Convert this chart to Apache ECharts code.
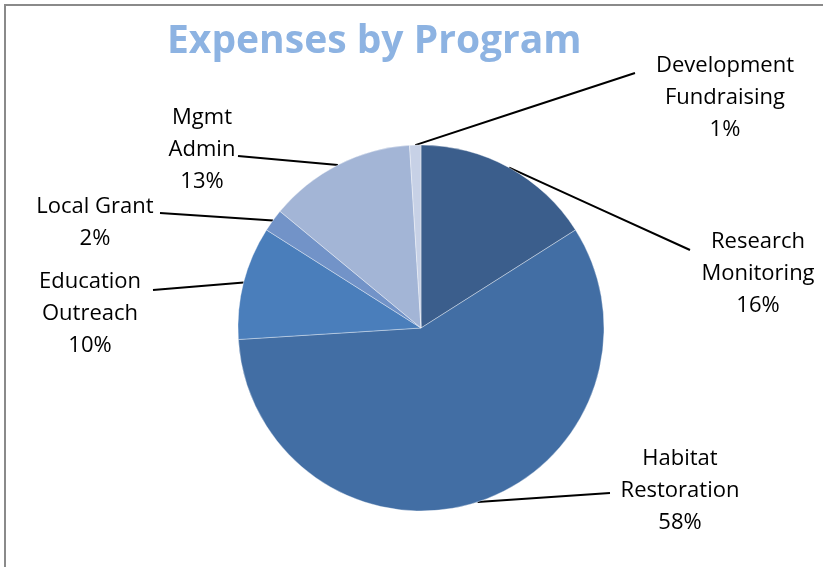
<!DOCTYPE html>
<html>
<head>
<meta charset="utf-8">
<script src="https://cdn.jsdelivr.net/npm/echarts@6/dist/echarts.min.js"></script>
<style>
  html, body { margin: 0; padding: 0; background: #fff; }
  #chart { width: 823px; height: 567px; }
  #frame {
    position: absolute; left: 4px; top: 4px; right: 0; bottom: 0;
    border-top: 2px solid #8a8a8a; border-left: 2px solid #8a8a8a;
    pointer-events: none;
  }
</style>
</head>
<body>
<div id="chart"></div>
<div id="frame"></div>
<script>
// data, clockwise from 12 o'clock
const programs = ['Research\nMonitoring', 'Habitat\nRestoration', 'Education\nOutreach', 'Local Grant', 'Mgmt\nAdmin', 'Development\nFundraising']
const shares = [16, 58, 10, 2, 13, 1]
const sliceColors = ['#3b5e8c', '#426ea4', '#4a7ebb', '#7293c8', '#a3b5d6', '#c7d1e6']

// where each label sits (block centre) and where its leader line ends
const labelSpots = [
  { x: 758, y: 274, endX: 690, endY: 250 },
  { x: 680, y: 491, endX: 610, endY: 493 },
  { x: 90, y: 314, endX: 153, endY: 290 },
  { x: 95, y: 223, endX: 160, endY: 213 },
  { x: 202, y: 150, endX: 238, endY: 156 },
  { x: 725, y: 98, endX: 635, endY: 73 }
]

const chart = echarts.init(document.getElementById('chart'))

chart.setOption({
  animation: false,
  title: {
    text: 'Expenses by Program',
    left: 162,
    top: 17,
    textStyle: {
      fontFamily: 'Open Sans',
      fontWeight: 'bold',
      fontSize: 39,
      color: '#8db3e2'
    }
  },
  series: [{
    type: 'pie',
    center: [421, 328],
    radius: [0, 183],
    startAngle: 90,
    clockwise: true,
    avoidLabelOverlap: false,
    data: programs.map((name, i) => ({
      name,
      value: shares[i],
      itemStyle: { color: sliceColors[i] }
    })),
    itemStyle: {
      borderColor: 'rgba(255,255,255,0.6)',
      borderWidth: 0.6
    },
    label: {
      show: true,
      formatter: '{b}\n{d}%',
      fontFamily: 'Open Sans',
      fontSize: 22,
      lineHeight: 32,
      color: '#000',
      align: 'center'
    },
    labelLine: {
      show: true,
      length: 20,
      length2: 20,
      lineStyle: { color: '#000', width: 2 }
    },
    labelLayout: function (params) {
      const spot = labelSpots[params.dataIndex]
      const start = params.labelLinePoints ? params.labelLinePoints[0] : [421, 328]
      const end = [spot.endX, spot.endY]
      const mid = [(start[0] + end[0]) / 2, (start[1] + end[1]) / 2]
      return {
        x: spot.x,
        y: spot.y,
        align: 'center',
        verticalAlign: 'middle',
        labelLinePoints: [start, mid, end]
      }
    }
  }]
})
</script>
</body>
</html>
